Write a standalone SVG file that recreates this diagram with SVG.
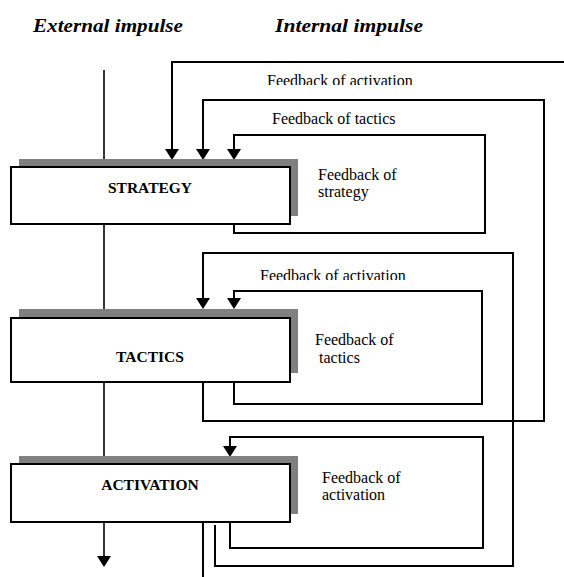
<svg xmlns="http://www.w3.org/2000/svg" width="564" height="577" viewBox="0 0 564 577">
<style>
.hdr{font-family:"Liberation Serif","Times New Roman",serif;font-size:19px;font-weight:bold;font-style:italic;fill:#000}
.lbl{font-family:"Liberation Serif","Times New Roman",serif;font-size:16px;fill:#000}
.box-t{font-family:"Liberation Serif","Times New Roman",serif;font-size:15.5px;font-weight:bold;fill:#000;text-anchor:middle}
.shadow{fill:#808080;stroke:none}
.box{fill:#fff;stroke:#000;stroke-width:2}
.ln{fill:none;stroke:#000;stroke-width:2}
.main{fill:none;stroke:#000;stroke-width:1.6}
</style>
<defs>
<marker id="ah" markerUnits="userSpaceOnUse" markerWidth="12" markerHeight="14" viewBox="0 0 11 14" refX="7" refY="7" orient="auto">
<path d="M0,0 L11,7 L0,14 z" fill="#000"/>
</marker>
<clipPath id="c1"><rect x="0" y="0" width="564" height="85"/></clipPath>
<clipPath id="c2"><rect x="0" y="200" width="564" height="80"/></clipPath>
</defs>
<rect width="564" height="577" fill="#fff"/>
<g id="headers">
<text class="hdr" x="33" y="32" textLength="150" lengthAdjust="spacingAndGlyphs">External impulse</text>
<text class="hdr" x="275" y="32" textLength="148" lengthAdjust="spacingAndGlyphs">Internal impulse</text>
</g>
<g id="connectors">
<path class="main" d="M104,70 V167"/>
<path class="main" d="M104,224 V309"/>
<path class="main" d="M104,382 V457"/>
<path class="main" d="M104,522 V563" marker-end="url(#ah)"/>
<path class="ln" d="M564,62 H172 V156" marker-end="url(#ah)"/>
<path class="ln" d="M203,522 V577"/>
<path class="ln" d="M203,382 V421 H544 V100 H203 V156" marker-end="url(#ah)"/>
<path class="ln" d="M234,224 V233 H485 V135 H234 V156" marker-end="url(#ah)"/>
<path class="ln" d="M215,525 V566 H513 V253 H203 V305" marker-end="url(#ah)"/>
<path class="ln" d="M234,382 V404 H482 V291 H234 V305" marker-end="url(#ah)"/>
<path class="ln" d="M230,522 V548 H483 V437 H230 V453" marker-end="url(#ah)"/>
</g>
<g id="connector-labels">
<text class="lbl" x="267" y="86" clip-path="url(#c1)">Feedback of activation</text>
<text class="lbl" x="272" y="124">Feedback of tactics</text>
<text class="lbl" x="260" y="281" clip-path="url(#c2)">Feedback of activation</text>
<text class="lbl" x="318" y="180">Feedback of</text>
<text class="lbl" x="318" y="197">strategy</text>
<text class="lbl" x="315" y="345">Feedback of</text>
<text class="lbl" x="319" y="363">tactics</text>
<text class="lbl" x="322" y="483">Feedback of</text>
<text class="lbl" x="322" y="500">activation</text>
</g>
<g id="strategy">
<rect class="shadow" x="19" y="159" width="279" height="57"/>
<rect class="box" x="11" y="167" width="279" height="57"/>
<text class="box-t" x="150" y="193">STRATEGY</text>
</g>
<g id="tactics">
<rect class="shadow" x="19" y="309" width="279" height="64"/>
<rect class="box" x="11" y="318" width="279" height="64"/>
<text class="box-t" x="150" y="362">TACTICS</text>
</g>
<g id="activation">
<rect class="shadow" x="19" y="456" width="279" height="58"/>
<rect class="box" x="11" y="464" width="279" height="58"/>
<text class="box-t" x="150" y="490">ACTIVATION</text>
</g>
</svg>
